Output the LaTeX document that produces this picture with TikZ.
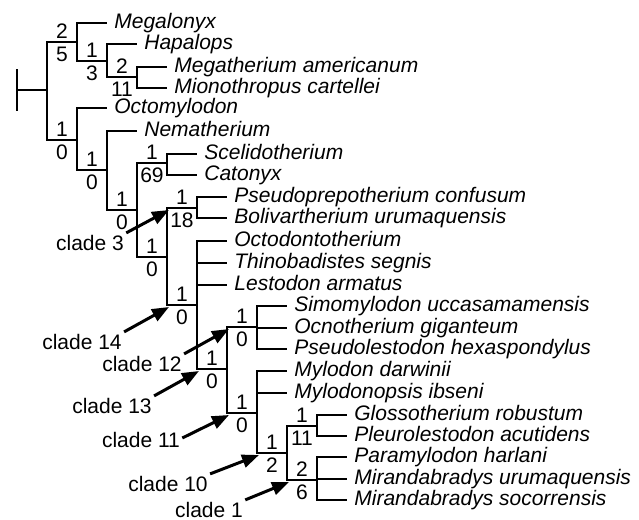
\documentclass[tikz,border=0pt]{standalone}
\usepackage{fontspec}
\setmainfont{Liberation Sans}
\usetikzlibrary{arrows.meta}
\tikzset{
  br/.style={line width=1pt},
  tx/.style={anchor=west, inner xsep=3.5pt, inner ysep=0pt,
             font=\fontsize{10.5}{12}\selectfont\itshape,
             text height=.72em, text depth=.22em},
  numa/.style={above, inner sep=0pt, yshift=1.5pt},
  numb/.style={below, inner sep=0pt, yshift=-1.8pt},
  cl/.style={inner sep=1pt},
  clarr/.style={-{Triangle[length=8.5pt,width=6.5pt]}, line width=1.5pt},
}
% branch from a parent to a child clade, with the two numbers on it
\newcommand{\clbranch}[4]{\draw[br] (#1) |- (#2) coordinate[pos=.5] (#2c)
  node[numa,pos=.75] (#2a) {#3} node[numb,pos=.75] (#2b) {#4};}

\begin{document}
\begin{tikzpicture}[x=0.5pt, y=-0.5pt, font=\fontsize{10.5}{12}\selectfont]
\useasboundingbox (0,0) rectangle (639,520);
% internal nodes
\coordinate (base) at (17,90);
\coordinate (root) at (47,90);
\coordinate (nA) at (77,42);
\coordinate (nB) at (107,61);
\coordinate (nC) at (137,77);
\coordinate (nD) at (77,140);
\coordinate (nE) at (107,170);
\coordinate (nF) at (137,210);
\coordinate (nG) at (167,163);
\coordinate (nI) at (167,257);
\coordinate (nH) at (197,208);
\coordinate (nJ) at (197,305);
\coordinate (nK) at (227,369);
\coordinate (nL) at (257,327);
\coordinate (nM) at (257,413);
\coordinate (nN) at (287,453);
\coordinate (nO) at (317,426);
\coordinate (nP) at (317,480);
% taxa
\node[tx] (megalonyx) at (107,23) {Megalonyx};
\node[tx] (hapalops) at (137,44) {Hapalops};
\node[tx] (megath) at (167,67) {Megatherium americanum};
\node[tx] (mionoth) at (167,88) {Mionothropus cartellei};
\node[tx] (octomyl) at (107,108) {Octomylodon};
\node[tx] (nemath) at (137,131) {Nematherium};
\node[tx] (scelido) at (197,154) {Scelidotherium};
\node[tx] (catonyx) at (197,175) {Catonyx};
\node[tx] (pseudopr) at (227,197) {Pseudoprepotherium confusum};
\node[tx] (bolivar) at (227,218) {Bolivartherium urumaquensis};
\node[tx] (octodon) at (227,241) {Octodontotherium};
\node[tx] (thinob) at (227,263) {Thinobadistes segnis};
\node[tx] (lestodon) at (227,285) {Lestodon armatus};
\node[tx] (simomyl) at (287,306) {Simomylodon uccasamamensis};
\node[tx] (ocnoth) at (287,328) {Ocnotherium giganteum};
\node[tx] (pseudol) at (287,349) {Pseudolestodon hexaspondylus};
\node[tx] (mylodon) at (287,371) {Mylodon darwinii};
\node[tx] (mylodop) at (287,393) {Mylodonopsis ibseni};
\node[tx] (glosso) at (347,415) {Glossotherium robustum};
\node[tx] (pleuro) at (347,436) {Pleurolestodon acutidens};
\node[tx] (paramyl) at (347,457) {Paramylodon harlani};
\node[tx] (mirurum) at (347,479) {Mirandabradys urumaquensis};
\node[tx] (mirsoc) at (347,500) {Mirandabradys socorrensis};
% tree
\draw[br] (base) ++(0,-21) -- ++(0,42);
\draw[br] (base) -- (root);
\clbranch{root}{nA}{2}{5}
\clbranch{nA}{nB}{1}{3}
\clbranch{nB}{nC}{2}{11}
\clbranch{root}{nD}{1}{0}
\clbranch{nD}{nE}{1}{0}
\clbranch{nE}{nF}{1}{0}
\clbranch{nF}{nG}{1}{69}
\clbranch{nF}{nI}{1}{0}
\clbranch{nI}{nH}{1}{18}
\clbranch{nI}{nJ}{1}{0}
\clbranch{nJ}{nK}{1}{0}
\clbranch{nK}{nL}{1}{0}
\clbranch{nK}{nM}{1}{0}
\clbranch{nM}{nN}{1}{2}
\clbranch{nN}{nO}{1}{11}
\clbranch{nN}{nP}{2}{6}
\foreach \p/\t in {nA/megalonyx, nB/hapalops, nC/megath, nC/mionoth, nD/octomyl,
    nE/nemath, nG/scelido, nG/catonyx, nH/pseudopr, nH/bolivar, nJ/octodon,
    nJ/thinob, nJ/lestodon, nL/simomyl, nL/ocnoth, nL/pseudol, nM/mylodon,
    nM/mylodop, nO/glosso, nO/pleuro, nP/paramyl, nP/mirurum, nP/mirsoc}
  \draw[br] (\p) |- (\t.west);
% clades
\node[cl] (c3) at (90,243) {clade 3};
\node[cl] (c14) at (82,342) {clade 14};
\node[cl] (c12) at (142,364) {clade 12};
\node[cl] (c13) at (112,406) {clade 13};
\node[cl] (c11) at (141,440) {clade 11};
\node[cl] (c10) at (168,484) {clade 10};
\node[cl] (c1) at (209,510) {clade 1};
\draw[clarr] (c3.north east) -- ([shift={(2,2)}]nHc);
\draw[clarr] (c14.north east) -- ([shift={(2,2)}]nJc);
\draw[clarr] (c12.north east) -- ([shift={(2,2)}]nLc);
\draw[clarr] (c13.north east) -- ([shift={(2,2)}]nKc);
\draw[clarr] ([yshift=1pt]c11.east) -- ([shift={(2,2)}]nMc);
\draw[clarr] (c10.north east) -- ([shift={(2,2)}]nNc);
\draw[clarr] (c1.north east) -- ([shift={(2,2)}]nPc);
\end{tikzpicture}
\end{document}
